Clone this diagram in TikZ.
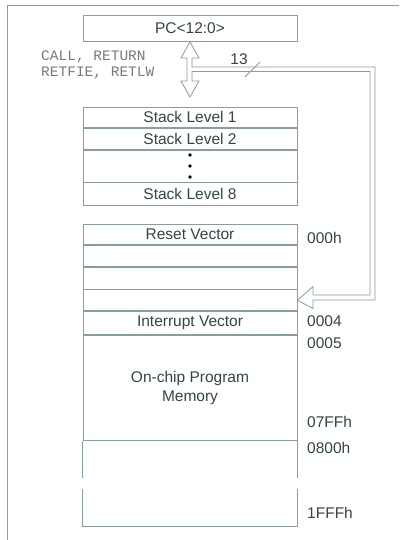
\documentclass[tikz,border=0pt]{standalone}
\usepackage{fontspec}
\setmainfont{Liberation Sans}
\newfontfamily\codefont{Liberation Mono}
\usetikzlibrary{positioning}
\definecolor{linecol}{RGB}{135,160,152}
\definecolor{textcol}{RGB}{50,70,65}
\definecolor{codecol}{RGB}{115,125,122}
\begin{document}
\begin{tikzpicture}[x=1pt,y=-1pt,
box/.style={draw=linecol, line width=0.8pt, minimum width=214pt, inner sep=0pt, anchor=north,
  text=textcol, font=\fontsize{15.5}{19}\selectfont},
addr/.style={anchor=west, inner sep=0pt, text=textcol, font=\fontsize{15.5}{18}\selectfont},
bus/.style={draw=linecol, line width=0.8pt, line join=miter}
]
\useasboundingbox (0,0) rectangle (399,540);
\draw[linecol, line width=0.8pt] (7,540) -- (7,5) -- (399,5);

% program counter
\node[box, minimum height=26pt] (pc) at (190,15) {PC<12:0>};

% hardware stack
\node[box, minimum height=20pt] (s1) at (190,107) {Stack Level 1};
\node[box, minimum height=21pt, below=0pt of s1] (s2) {Stack Level 2};
\node[box, minimum height=32pt, below=0pt of s2] (sdots) {};
\node[box, minimum height=23pt, below=0pt of sdots] (s8) {Stack Level 8};
\foreach \dy in {-11,0,11}
  \fill[black] ([yshift=\dy pt]sdots.center) circle (1.9pt);

% program memory
\node[box, minimum height=20pt] (reset) at (190,224) {Reset Vector};
\node[box, minimum height=21pt, below=0pt of reset] (m1) {};
\node[box, minimum height=22pt, below=0pt of m1] (m2) {};
\node[box, minimum height=21pt, below=0pt of m2] (m3) {};
\node[box, minimum height=23pt, below=0pt of m3] (intv) {Interrupt Vector};
\node[box, minimum height=105pt, below=0pt of intv, align=center] (prog) {On-chip Program\\Memory};
\node[box, draw=none, minimum height=85pt, below=0pt of prog] (upper) {};
\draw[linecol, line width=0.8pt] (upper.north west) -- ++(0,37) (upper.north east) -- ++(0,37);
\draw[linecol, line width=0.8pt] (upper.south west) ++(0,-38) -- (upper.south west)
  -- (upper.south east) -- ++(0,-38);

% addresses
\node[addr] (a0) at (307,238) {000h};
\node[addr] (a4) at (307,321) {0004};
\node[addr] (a5) at (307,343) {0005};
\node[addr] (a7ff) at (307,422) {07FFh};
\node[addr] (a800) at (307,448) {0800h};
\node[addr] (a1fff) at (307,513) {1FFFh};

% call / return text
\node[anchor=west, inner sep=0pt, align=left, text=codecol,
  font=\codefont\fontsize{14.5}{16}\selectfont] (ops) at (41,65) {CALL, RETURN\\RETFIE, RETLW};

% 13 bit bus
\draw[bus] (pc.south) -- (199,58) -- (192,58) -- (192,67) -- (375,67) -- (375,300)
  -- (313,300) -- (313,308.5) -- (m3.east) -- (313,286.5) -- (313,295) -- (370,295)
  -- (370,71.5) -- (192,71.5) -- (192,81) -- (199,81) -- (190,97) -- (181,81)
  -- (187,81) -- (187,58) -- (181,58) -- cycle;
\draw[linecol, line width=0.8pt] (245,77) -- (260,62);
\node[text=textcol, inner sep=0pt, font=\fontsize{15.5}{18}\selectfont] (w13) at (239,59) {13};
\end{tikzpicture}
\end{document}
